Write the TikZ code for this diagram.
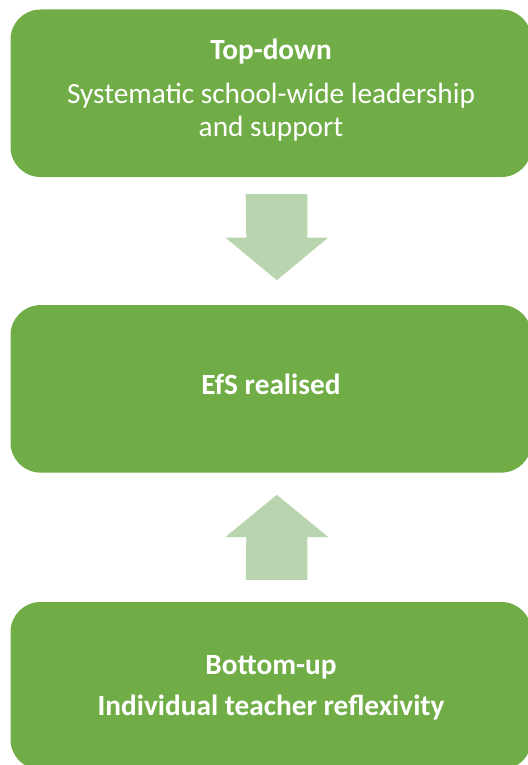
\documentclass[tikz,border=0pt]{standalone}
\usepackage{fontspec}
\setmainfont{Carlito}
\usetikzlibrary{calc}
\definecolor{boxgreen}{RGB}{112,173,71}
\definecolor{arrowgreen}{RGB}{184,213,176}
\tikzset{
	greenbox/.style={fill=boxgreen, rounded corners=30pt, minimum width=521pt, minimum height=167.5pt, inner sep=0pt},
	boxtext/.style={text=white, anchor=base, inner sep=0pt, font=\fontsize{29.3}{35}\selectfont},
	titletext/.style={boxtext, font=\fontsize{29.3}{35}\selectfont\bfseries},
	blockarrow/.style={fill=arrowgreen},
}
\begin{document}
\begin{tikzpicture}[x=1pt, y=-1pt]
	\useasboundingbox (0,0) rectangle (527,765);
	% the three stages
	\node[greenbox] (top) at (271,93.25) {};
	\node[greenbox] (realised) at (271,388.85) {};
	\node[greenbox] (bottom) at (271,685.75) {};
	\node[titletext] (topttl) at ([yshift=33.95pt]top.center) {Top-down};
	\node[boxtext] (toptxt) at ([yshift=-10.05pt]top.center) {Systematic school-wide leadership};
	\node[boxtext] (toptxt2) at ([yshift=-43.45pt]top.center) {and support};
	\node[titletext] (realisedttl) at ([yshift=-5.45pt]realised.center) {EfS realised};
	\node[titletext] (bottomttl) at ([yshift=11.45pt]bottom.center) {Bottom-up};
	\node[titletext] (bottomtxt) at ([yshift=-29.95pt]bottom.center) {Individual teacher reflexivity};
	% block arrows between the stages
	\fill[blockarrow] ($(top.south)+(-25.3,17)$) -- ++(61.6,0) -- ++(0,43.3) -- ++(21,0)
		-- ++(-51.5,42.7) -- ++(-51.5,-42.7) -- ++(21,0) -- cycle;
	\fill[blockarrow] ($(bottom.north)+(-25.3,-22)$) -- ++(61.6,0) -- ++(0,-42.7) -- ++(21,0)
		-- ++(-51.5,-42.3) -- ++(-51.5,42.3) -- ++(21,0) -- cycle;
\end{tikzpicture}
\end{document}
